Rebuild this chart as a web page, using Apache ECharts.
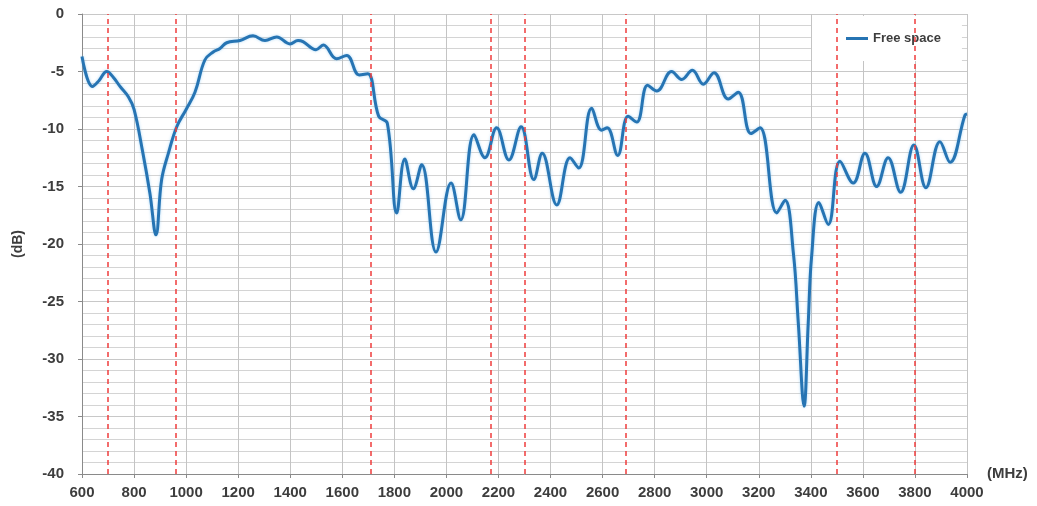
<!DOCTYPE html>
<html>
<head>
<meta charset="utf-8">
<script src="https://cdn.jsdelivr.net/npm/echarts@6/dist/echarts.min.js"></script>
<style>
html,body{margin:0;padding:0;background:#fff;}
#chart{width:1037px;height:506px;}
</style>
</head>
<body>
<div id="chart"></div>
<script>
// Frequencies (MHz) and response (dB)
const freqs = [600, 640, 665, 695, 720, 746, 778, 800, 834, 861, 884, 906, 932, 964, 1000, 1034, 1072, 1104, 1130, 1156, 1207, 1257, 1303, 1348, 1399, 1430, 1449, 1499, 1527, 1578, 1617, 1665, 1698, 1740, 1773, 1809, 1840, 1873, 1905, 1960, 2018, 2055, 2106, 2148, 2193, 2240, 2287, 2336, 2368, 2424, 2475, 2508, 2558, 2596, 2618, 2658, 2698, 2731, 2773, 2808, 2865, 2904, 2945, 2987, 3028, 3083, 3121, 3170, 3205, 3269, 3301, 3333, 3352, 3374, 3390, 3403, 3431, 3467, 3512, 3563, 3608, 3653, 3697, 3745, 3796, 3842, 3896, 3935, 3992, 4000];
const freeSpace = [-3.7, -6.3, -5.8, -5.0, -5.5, -6.3, -7.2, -8.3, -12.1, -15.6, -19.2, -14.4, -12.1, -9.8, -8.3, -6.8, -4.0, -3.3, -3.0, -2.5, -2.3, -1.9, -2.3, -2.0, -2.6, -2.3, -2.4, -3.1, -2.7, -3.9, -3.6, -5.3, -5.2, -8.9, -9.5, -17.3, -12.6, -15.2, -13.1, -20.7, -14.7, -17.9, -10.5, -12.5, -9.9, -12.7, -9.8, -14.4, -12.1, -16.6, -12.5, -13.4, -8.2, -10.1, -9.9, -12.3, -8.9, -9.4, -6.2, -6.7, -5.0, -5.7, -4.9, -6.1, -5.1, -7.4, -6.8, -10.4, -9.9, -17.3, -16.2, -20.8, -26.9, -34.1, -26.9, -21.1, -16.4, -18.3, -12.8, -14.7, -12.1, -15.0, -12.5, -15.5, -11.4, -15.1, -11.1, -12.9, -8.8, -8.7];
// Red dashed band markers (MHz)
const bandMarkers = [698, 960, 1710, 2170, 2300, 2690, 3500, 3800];
const seriesName = 'Free space';
const xName = '(MHz)';
const yName = '(dB)';

const labelColor = '#3d3d3d';
const fontFam = '"Liberation Sans", Arial, sans-serif';

const chart = echarts.init(document.getElementById('chart'));
chart.setOption({
  animation: false,
  backgroundColor: '#ffffff',
  grid: {left: 82, right: 70, top: 14, bottom: 32, containLabel: false},
  legend: {
    data: [{name: seriesName, icon: 'rect'}],
    left: 812, top: 16,
    padding: [16, 21, 16, 34],
    backgroundColor: '#ffffff',
    itemWidth: 22, itemHeight: 3,
    textStyle: {color: labelColor, fontWeight: 'bold', fontSize: 13, fontFamily: fontFam}
  },
  xAxis: {
    type: 'value', min: 600, max: 4000, interval: 200,
    name: xName, nameLocation: 'end', nameGap: 20,
    nameTextStyle: {color: labelColor, fontWeight: 'bold', fontSize: 15, fontFamily: fontFam, padding: [16, 0, 0, 0]},
    axisLine: {show: true, onZero: false, lineStyle: {color: '#8a8a8a', width: 1}},
    axisTick: {show: true, inside: false, length: 4, lineStyle: {color: '#8a8a8a'}},
    axisLabel: {color: labelColor, fontWeight: 'bold', fontSize: 15, fontFamily: fontFam, margin: 11, formatter: v => String(v)},
    splitLine: {show: true, lineStyle: {color: '#c4c4c4', width: 1}}
  },
  yAxis: {
    type: 'value', min: -40, max: 0, interval: 5,
    name: yName, nameLocation: 'middle', nameGap: 57, nameRotate: 90,
    nameTextStyle: {color: labelColor, fontWeight: 'bold', fontSize: 14, fontFamily: fontFam},
    axisLine: {show: true, lineStyle: {color: '#8a8a8a', width: 1}},
    axisTick: {show: true, inside: false, length: 4, lineStyle: {color: '#8a8a8a'}},
    minorTick: {show: false, splitNumber: 5},
    axisLabel: {color: labelColor, fontWeight: 'bold', fontSize: 15, fontFamily: fontFam, margin: 18},
    splitLine: {show: true, lineStyle: {color: '#c8c8c8', width: 1}},
    minorSplitLine: {show: true, lineStyle: {color: '#d4d4d4', width: 1}}
  },
  series: [{
    name: seriesName,
    type: 'line',
    data: freqs.map((f, i) => [f, freeSpace[i]]),
    smooth: 0.4,
    showSymbol: false,
    symbol: 'none',
    lineStyle: {color: '#2674b3', width: 3, shadowColor: 'rgba(120,190,240,0.6)', shadowBlur: 3},
    itemStyle: {color: '#2674b3'},
    z: 3,
    markLine: {
      silent: true,
      symbol: ['none', 'none'],
      label: {show: false},
      lineStyle: {color: '#f03c3c', type: [5, 4], width: 1.5},
      data: bandMarkers.map(v => ({xAxis: v}))
    }
  }]
});
</script>
</body>
</html>
